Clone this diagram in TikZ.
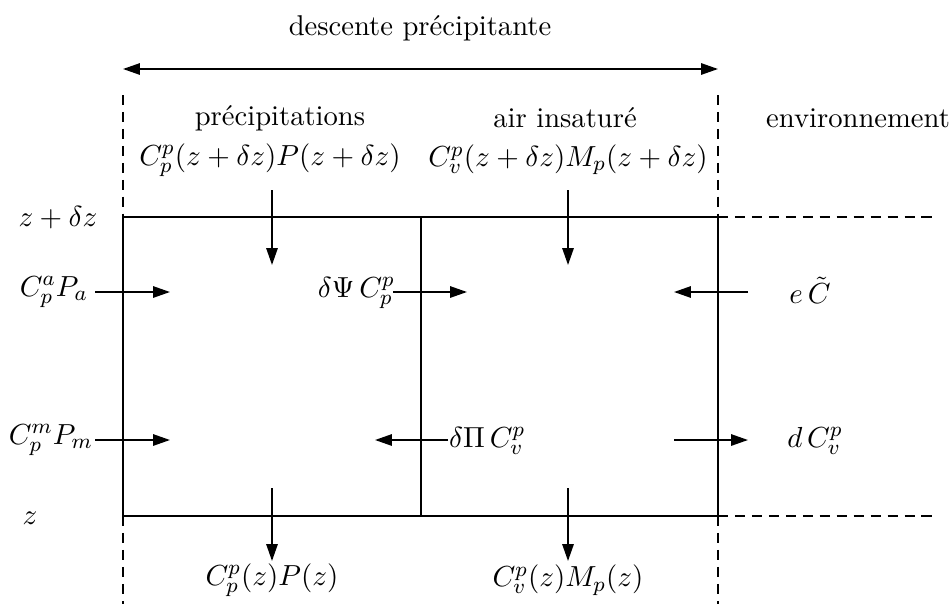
\documentclass[tikz,border=0pt]{standalone}
\usetikzlibrary{arrows.meta}
\begin{document}
\begin{tikzpicture}[x=0.3775pt,y=-0.3775pt,
  every node/.style={font=\fontsize{10.8pt}{13pt}\selectfont},
  flow/.style={line width=0.65pt,-{Triangle[length=6.4pt,width=4.3pt]}},
  wall/.style={line width=0.4pt},
  dwall/.style={line width=0.4pt,dash pattern=on 3.8pt off 2.6pt},
  lbl/.style={inner sep=1pt}]
\useasboundingbox (0,0) rectangle (951,604);
% frame
\coordinate (TL) at (123,217); \coordinate (TM) at (421,217); \coordinate (TR) at (718,217);
\coordinate (BL) at (123,516); \coordinate (BM) at (421,516); \coordinate (BR) at (718,516);
\coordinate (TE) at (935,217); \coordinate (BE) at (935,516);
\coordinate (LT) at (123,95); \coordinate (LB) at (123,604);
\coordinate (RT) at (718,95); \coordinate (RB) at (718,604);
\draw[wall] (TL) -- (TR) -- (BR) -- (BL) -- cycle;
\draw[wall] (TM) -- (BM);
\draw[dwall] (TR) -- (TE);
\draw[dwall] (BR) -- (BE);
\draw[dwall] (LT) -- (TL); \draw[dwall] (BL) -- (LB);
\draw[dwall] (RT) -- (TR); \draw[dwall] (BR) -- (RB);
% top
\node[lbl] (desc) at (420,28) {descente précipitante};
\coordinate (DA) at (123,69); \coordinate (DB) at (718,69);
\draw[line width=0.65pt,{Triangle[length=6.4pt,width=4.3pt]}-{Triangle[length=6.4pt,width=4.3pt]}] (DA) -- (DB);
\node[lbl] (prec) at (280,118) {précipitations};
\node[lbl] (air) at (565,118) {air insaturé};
\node[lbl] (env) at (858,118) {environnement};
\node[lbl] (ftp) at (270,160) {$C_p^p(z+\delta z)P(z+\delta z)$};
\node[lbl] (ftv) at (568,160) {$C_v^p(z+\delta z)M_p(z+\delta z)$};
\node[lbl] (zdz) at (58,218) {$z+\delta z$};
\node[lbl] (zz) at (30,518) {$z$};
% vertical arrows
\coordinate (a1) at (272,190); \coordinate (a2) at (272,265);
\coordinate (b1) at (568,190); \coordinate (b2) at (568,265);
\coordinate (c1) at (272,488); \coordinate (c2) at (272,561);
\coordinate (d1) at (568,488); \coordinate (d2) at (568,561);
\draw[flow] (a1) -- (a2);
\draw[flow] (b1) -- (b2);
\draw[flow] (c1) -- (c2);
\draw[flow] (d1) -- (d2);
\node[lbl] (fbp) at (272,580) {$C_p^p(z)P(z)$};
\node[lbl] (fbv) at (568,580) {$C_v^p(z)M_p(z)$};
% row 1
\node[lbl,anchor=east] (cpa) at (91,292) {$C_p^a P_a$};
\coordinate (r1a) at (95,292); \coordinate (r1b) at (170,292);
\draw[flow] (r1a) -- (r1b);
\node[lbl,anchor=east] (psi) at (398,293) {$\delta\Psi\, C_p^p$};
\coordinate (r1c) at (393,292); \coordinate (r1d) at (467,292);
\draw[flow] (r1c) -- (r1d);
\coordinate (r1e) at (748,292); \coordinate (r1f) at (674,292);
\draw[flow] (r1e) -- (r1f);
\node[lbl] (ec) at (810,290) {$e\,\tilde C$};
% row 2
\node[lbl,anchor=east] (cpm) at (96,440) {$C_p^m P_m$};
\coordinate (r2a) at (95,440); \coordinate (r2b) at (170,440);
\draw[flow] (r2a) -- (r2b);
\node[lbl,anchor=west] (pii) at (446,441) {$\delta\Pi\, C_v^p$};
\coordinate (r2c) at (448,440); \coordinate (r2d) at (375,440);
\draw[flow] (r2c) -- (r2d);
\coordinate (r2e) at (674,440); \coordinate (r2f) at (748,440);
\draw[flow] (r2e) -- (r2f);
\node[lbl] (dc) at (815,441) {$d\,C_v^p$};
\end{tikzpicture}
\end{document}
